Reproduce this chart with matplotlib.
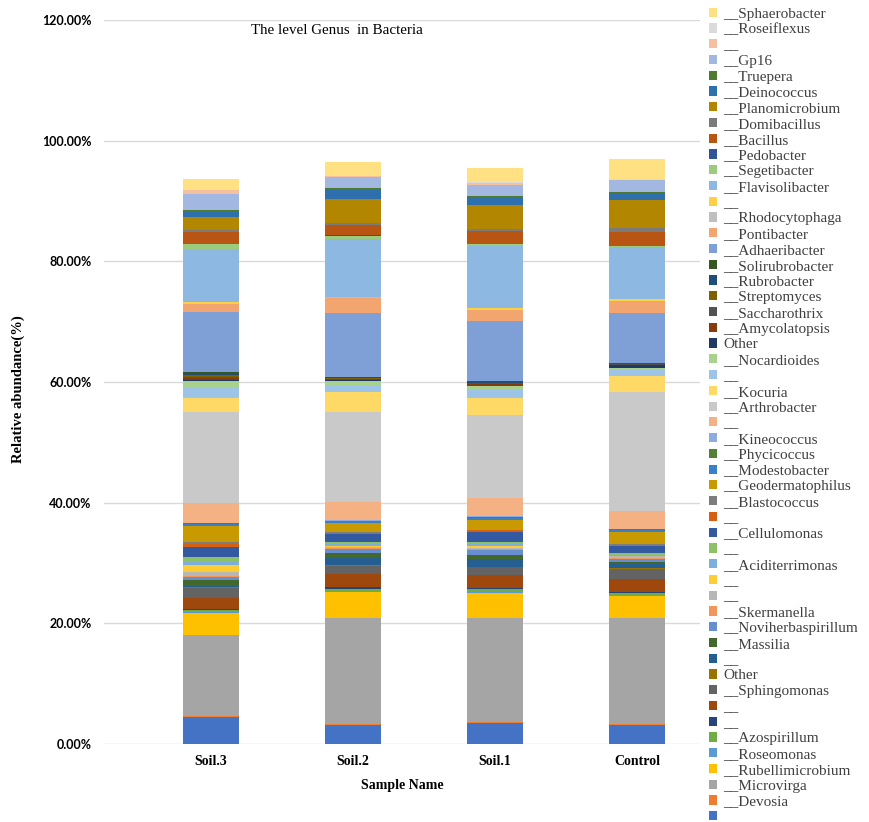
import matplotlib
matplotlib.use("Agg")
import matplotlib.pyplot as plt
from matplotlib.ticker import FuncFormatter, MultipleLocator

samples = ["Soil.3", "Soil.2", "Soil.1", "Control"]

# genus labels, stacked from the bottom of each bar upward
genera = [
    "__", "__Devosia", "__Microvirga", "__Rubellimicrobium", "__Roseomonas",
    "__Azospirillum", "__", "__", "__Sphingomonas", "Other",
    "__", "__Massilia", "__Noviherbaspirillum", "__Skermanella", "__",
    "__", "__Aciditerrimonas", "__", "__Cellulomonas", "__",
    "__Blastococcus", "__Geodermatophilus", "__Modestobacter", "__Phycicoccus", "__Kineococcus",
    "__", "__Arthrobacter", "__Kocuria", "__", "__Nocardioides",
    "Other", "__Amycolatopsis", "__Saccharothrix", "__Streptomyces", "__Rubrobacter",
    "__Solirubrobacter", "__Adhaeribacter", "__Pontibacter", "__Rhodocytophaga", "__",
    "__Flavisolibacter", "__Segetibacter", "__Pedobacter", "__Bacillus", "__Domibacillus",
    "__Planomicrobium", "__Deinococcus", "__Truepera", "__Gp16", "__",
    "__Roseiflexus", "__Sphaerobacter",
]

# relative abundance (%) of each genus, same order as `genera`
soil3 = [
    4.53, 0.17, 13.37, 3.70, 0.16, 0.27, 0.10, 1.90, 1.60, 0.20,
    0.20, 1.00, 0.40, 0.20, 0.70, 1.20, 0.70, 0.60, 1.70, 0.40,
    0.40, 2.60, 0.30, 0.20, 0.10, 3.30, 15.10, 2.25, 1.75, 1.10,
    0.20, 0.30, 0.20, 0.30, 0.20, 0.20, 10.06, 1.24, 0.05, 0.35,
    8.80, 0.70, 0.10, 1.90, 0.45, 2.05, 0.90, 0.25, 2.65, 0.65,
    0.05, 1.80,
]
soil2 = [
    3.09, 0.28, 17.57, 4.31, 0.15, 0.35, 0.22, 2.23, 1.30, 0.10,
    1.20, 0.90, 0.60, 0.20, 0.20, 0.20, 0.20, 0.30, 1.35, 0.15,
    0.20, 1.50, 0.30, 0.10, 0.10, 3.07, 14.83, 3.30, 1.00, 0.90,
    0.10, 0.15, 0.10, 0.15, 0.10, 0.10, 10.60, 2.50, 0.05, 0.10,
    9.60, 0.45, 0.15, 1.75, 0.30, 4.00, 1.40, 0.30, 1.90, 0.10,
    0.10, 2.30,
]
soil1 = [
    3.48, 0.17, 17.29, 4.16, 0.15, 0.50, 0.11, 2.10, 1.34, 0.10,
    1.30, 0.70, 0.75, 0.15, 0.20, 0.30, 0.30, 0.40, 1.60, 0.30,
    0.10, 1.70, 0.30, 0.20, 0.15, 2.95, 13.80, 2.75, 1.35, 0.60,
    0.10, 0.20, 0.20, 0.10, 0.10, 0.20, 9.85, 1.85, 0.05, 0.25,
    10.30, 0.30, 0.10, 2.20, 0.30, 3.90, 1.20, 0.30, 1.85, 0.35,
    0.20, 2.20,
]
control = [
    3.09, 0.17, 17.68, 3.56, 0.20, 0.40, 0.10, 2.15, 1.71, 0.14,
    0.80, 0.20, 0.50, 0.20, 0.20, 0.10, 0.20, 0.30, 1.10, 0.10,
    0.25, 1.95, 0.40, 0.10, 0.10, 2.90, 19.80, 2.60, 1.10, 0.30,
    0.35, 0.10, 0.10, 0.05, 0.05, 0.05, 8.40, 1.90, 0.05, 0.35,
    8.60, 0.10, 0.05, 2.25, 0.70, 4.70, 1.10, 0.20, 1.90, 0.10,
    0.10, 3.40,
]

colors = [
    "#4472C4", "#ED7D31", "#A5A5A5", "#FFC000", "#5B9BD5",
    "#70AD47", "#264478", "#9E480E", "#636363", "#997300",
    "#255E91", "#43682B", "#698ED0", "#F1975A", "#B7B7B7",
    "#FFCD33", "#7CAFDD", "#8CC168", "#335AA1", "#D65F12",
    "#7C7C7C", "#C99A00", "#3A7FC9", "#548235", "#8FAADC",
    "#F4B183", "#C9C9C9", "#FFD966", "#9DC3E6", "#A9D18E",
    "#203864", "#843C0C", "#525252", "#7F6000", "#1F4E79",
    "#375623", "#7F9FD7", "#F2A56F", "#BFBFBF", "#FFD042",
    "#8DB8E1", "#9DCB7D", "#2F5597", "#B95512", "#7B7B7B",
    "#B38600", "#2E6FAD", "#4E7A30", "#A3B8E1", "#F5C0A0",
    "#DADADA", "#FFE082",
]

serif = ["Liberation Serif", "DejaVu Serif"]

fig = plt.figure(figsize=(8.70, 8.22), dpi=100)
ax = fig.add_axes([104 / 870, 1 - 744 / 822, 596 / 870, 724 / 822])

columns = [soil3, soil2, soil1, control]
xpos = list(range(len(samples)))
bottoms = [0.0] * len(samples)
handles = []
for i, (name, col) in enumerate(zip(genera, colors)):
    vals = [c[i] for c in columns]
    bars = ax.bar(xpos, vals, bottom=bottoms, width=0.40, color=col,
                  edgecolor="none", zorder=3)
    handles.append(bars)
    bottoms = [b + v for b, v in zip(bottoms, vals)]

ax.set_ylim(0, 120)
ax.set_xlim(-0.754, 3.443)
ax.yaxis.set_major_locator(MultipleLocator(20))
ax.yaxis.set_major_formatter(FuncFormatter(lambda v, p: f"{v:.2f}%"))
ax.grid(axis="y", color="#D9D9D9", linewidth=1.0, zorder=0)
for s in ax.spines.values():
    s.set_visible(False)
ax.tick_params(axis="both", length=0)
ax.tick_params(axis="y", pad=9)
ax.tick_params(axis="x", pad=8)
for lbl in ax.get_yticklabels():
    lbl.set_fontfamily(["Lato", "DejaVu Sans"])
    lbl.set_fontweight("bold")
    lbl.set_fontsize(9)
ax.set_xticks(xpos)
ax.set_xticklabels(samples, fontfamily=serif, fontweight="bold", fontsize=10)

ax.set_xlabel("Sample Name", fontfamily=serif, fontweight="bold", fontsize=10, labelpad=8)
ax.set_ylabel("Relative abundance(%)", fontfamily=serif, fontweight="bold", fontsize=10.5)
ax.yaxis.set_label_coords(-0.1326, 0.49)

ax.text(0.39, 0.995, "The level Genus  in Bacteria", transform=ax.transAxes,
        ha="center", va="top", fontfamily=serif, fontsize=10.8, color="black")

leg = fig.legend(handles[::-1], genera[::-1], loc="upper left",
                 bbox_to_anchor=(704 / 870, 1 - 3 / 822), frameon=False,
                 prop={"family": serif, "size": 11},
                 handlelength=0.55, handleheight=0.55, handletextpad=0.4,
                 labelspacing=0.18, borderaxespad=0.2, borderpad=0.1)
for t in leg.get_texts():
    t.set_color("#404040")

fig.savefig("out.png", dpi=100)
